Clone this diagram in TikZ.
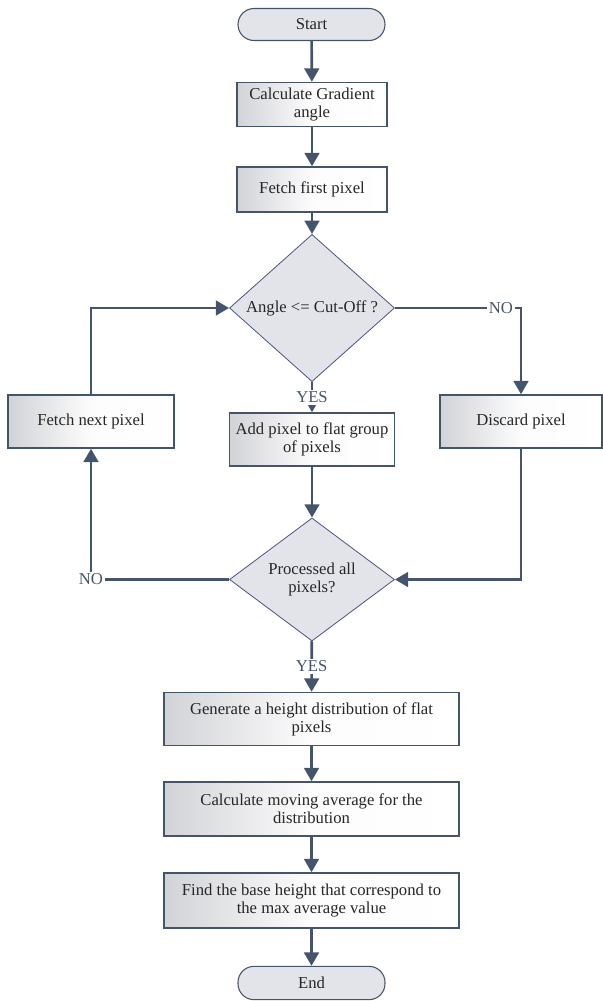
\documentclass[tikz,border=0pt]{standalone}
\usepackage{fontspec}
\setmainfont{Liberation Serif}
\usepackage{tikz}
\usetikzlibrary{shapes.geometric}
\usetikzlibrary{positioning}
\usetikzlibrary{arrows.meta}

\definecolor{linecol}{HTML}{44546A}
\definecolor{deccol}{HTML}{4A5480}
\definecolor{fillcol}{HTML}{E3E4EA}
\definecolor{shadecol}{HTML}{D2D3D7}
\definecolor{textcol}{HTML}{262626}

\begin{document}
\begin{tikzpicture}[x=0.75pt,y=-0.75pt,>={Triangle[width=11pt,length=10pt]},
	font=\fontsize{12.5}{13.5}\selectfont,text=textcol,
	term node/.style={rectangle,rounded corners=12pt,draw=linecol,line width=0.8pt,
		fill=fillcol,minimum width=110.25pt,minimum height=24pt,inner sep=0pt},
	proc node/.style={rectangle,draw=linecol,line width=1.1pt,left color=shadecol,
		right color=white,middle color=white!94!shadecol,align=center,inner sep=0pt,
		minimum width=123.75pt,minimum height=39.75pt},
	dec node/.style={diamond,draw=deccol,line width=0.6pt,fill=fillcol,align=center,
		inner sep=0pt,minimum width=123.75pt,minimum height=92.25pt},
	conn/.style={->,draw=linecol,line width=2pt},
	lbl/.style={fill=white,text=linecol,inner sep=1.5pt,font=\fontsize{12.5}{13}\selectfont}]

	\useasboundingbox (0,0) rectangle (603,1001);

	\node[term node] (start) at (311.5,24.5) {Start};
	\node[proc node,minimum width=112.5pt,minimum height=33pt] (calc) at (312,104.5) {Calculate Gradient\\angle};
	\node[proc node,minimum width=112.5pt,minimum height=33.75pt] (first) at (312,189.5) {Fetch first pixel};
	\node[dec node] (dec1) at (312,308) {Angle <= Cut-Off ?};
	\node[proc node] (add) at (312,439.5) {Add pixel to flat group\\of pixels};
	\node[proc node,minimum width=124.5pt] (next) at (91,421.5) {Fetch next pixel};
	\node[proc node,minimum width=121.5pt] (discard) at (521,421.5) {Discard pixel};
	\node[dec node] (dec2) at (312,579.5) {Processed all\\pixels?};
	\node[proc node,minimum width=221.25pt] (gen) at (311.5,719) {Generate a height distribution of flat\\pixels};
	\node[proc node,minimum width=221.25pt,minimum height=40.5pt] (avg) at (311.5,809) {Calculate moving average for the\\distribution};
	\node[proc node,minimum width=221.25pt,minimum height=41.25pt] (find) at (311.5,900.5) {Find the base height that correspond to\\the max average value};
	\node[term node,minimum height=25pt] (end) at (311.5,983) {End};

	\path[every edge/.style={conn}]
	(start) edge (calc)
	(calc) edge (first)
	(first) edge (dec1)
	(dec1) edge node[lbl] {YES} (add)
	(add) edge (dec2)
	(dec2) edge node[lbl] {YES} (gen)
	(gen) edge (avg)
	(avg) edge (find)
	(find) edge (end);

	\draw[conn] (dec1.east) -| node[lbl,pos=0.42] {NO} (discard.north);
	\draw[conn] (discard.south) |- (dec2.east);
	\draw[conn] (next.north) |- (dec1.west);
	\draw[conn] (dec2.west) -| node[lbl,pos=0.5] {NO} (next.south);
\end{tikzpicture}
\end{document}
